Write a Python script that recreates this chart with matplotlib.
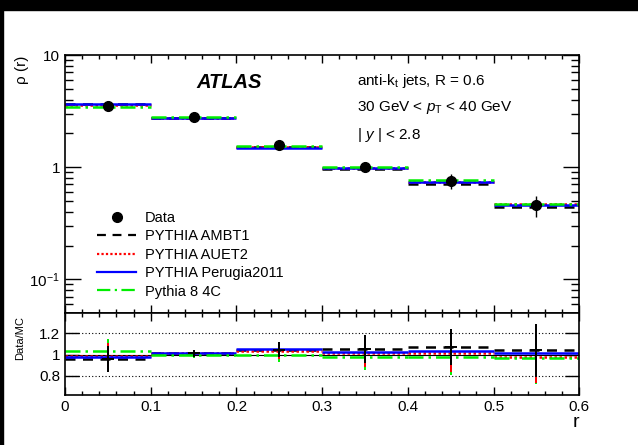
import matplotlib
matplotlib.use("Agg")
from matplotlib import pyplot as plt
from matplotlib.patches import Rectangle
from matplotlib.lines import Line2D
from matplotlib.ticker import LogLocator, FixedLocator, MultipleLocator, NullFormatter

plt.rcParams['font.family'] = ['Liberation Sans', 'DejaVu Sans']
plt.rcParams['mathtext.fontset'] = 'custom'
plt.rcParams['mathtext.rm'] = 'Liberation Sans'
plt.rcParams['mathtext.it'] = 'Liberation Sans:italic'

# bins in r
edges = [0.0, 0.1, 0.2, 0.3, 0.4, 0.5, 0.6]
centers = [0.05, 0.15, 0.25, 0.35, 0.45, 0.55]

# rho(r)
data = [3.52, 2.79, 1.56, 1.0, 0.75, 0.456]
data_err = [0.12, 0.07, 0.08, 0.1, 0.11, 0.1]
ambt1 = [3.67, 2.77, 1.50, 0.97, 0.71, 0.44]
auet2 = [3.58, 2.77, 1.52, 0.99, 0.74, 0.465]
perugia = [3.62, 2.77, 1.49, 0.98, 0.73, 0.455]
py8 = [3.45, 2.78, 1.54, 1.01, 0.765, 0.468]

# Data/MC
r_ambt1 = [0.96, 1.01, 1.045, 1.05, 1.07, 1.04]
r_auet2 = [0.99, 1.01, 1.03, 1.01, 1.01, 0.98]
r_perugia = [0.98, 1.01, 1.05, 1.02, 1.03, 1.01]
r_py8 = [1.03, 1.0, 1.0, 0.98, 0.98, 0.97]
r_err = [0.12, 0.03, 0.07, 0.13, 0.17, 0.25]

models = [
    ("PYTHIA AMBT1", ambt1, r_ambt1, "black", (0, (4, 3))),
    ("PYTHIA AUET2", auet2, r_auet2, "red", (0, (1, 1))),
    ("PYTHIA Perugia2011", perugia, r_perugia, "#0000ff", "-"),
    ("Pythia 8 4C", py8, r_py8, "#00ee00", (0, (6, 2, 1, 2))),
]

fig = plt.figure(figsize=(6.38, 4.45), dpi=100)
# black border of the original screenshot
fig.patches.append(Rectangle((0, 1 - 10 / 445), 1, 10 / 445, transform=fig.transFigure, color="black", zorder=-1))
fig.patches.append(Rectangle((0, 0), 3 / 638, 1, transform=fig.transFigure, color="black", zorder=-1))

ax = fig.add_axes([0.102, 0.2966, 0.806, 0.5798])
ax2 = fig.add_axes([0.102, 0.1124, 0.806, 0.1842], sharex=ax)

lo = edges[:-1]
hi = edges[1:]

# upper panel - horizontal bin lines only
for name, vals, rvals, col, ls in models:
    ax.hlines(vals, lo, hi, colors=col, linestyles=[ls], linewidth=1.8)
ax.errorbar(centers, data, yerr=data_err, fmt="o", color="black", markersize=7,
            elinewidth=1, capsize=0, zorder=5)

ax.set_yscale("log")
ax.set_ylim(0.05, 10)
ax.set_xlim(0, 0.6)
ax.yaxis.set_major_locator(FixedLocator([0.1, 1, 10]))
ax.yaxis.set_major_formatter(plt.FixedFormatter(["10$^{-1}$", "1", "10"]))
ax.yaxis.set_minor_locator(LogLocator(base=10, subs=range(2, 10)))
ax.yaxis.set_minor_formatter(NullFormatter())
ax.xaxis.set_major_locator(MultipleLocator(0.1))
ax.xaxis.set_minor_locator(MultipleLocator(0.02))
ax.tick_params(axis="x", labelbottom=False)
ax.tick_params(which="both", direction="in", top=True, right=True, labelsize=11, width=1)
ax.tick_params(axis="y", which="major", length=11.5)
ax.tick_params(axis="y", which="minor", length=5.8)
ax.tick_params(axis="x", which="major", length=5.5)
ax.tick_params(axis="x", which="minor", length=3)
fig.text(22 / 638, 1 - 70 / 445, "ρ (r)", rotation=90, fontsize=11, ha="center", va="center")

leg_handles = [Line2D([], [], marker="o", linestyle="none", color="black", markersize=7)]
leg_handles += [Line2D([], [], color=m[3], linestyle=m[4], linewidth=1.6) for m in models]
ax.legend(leg_handles, ["Data"] + [m[0] for m in models], loc="upper left",
          bbox_to_anchor=(0.062, 0.395), frameon=False, fontsize=10.5, handlelength=2.7,
          handletextpad=0.6, labelspacing=0.3, borderpad=0, borderaxespad=0)

ax.text(0.318, 0.893, "ATLAS", transform=ax.transAxes, fontsize=14.5, fontweight="bold",
        fontstyle="italic", ha="center", va="center")
ax.text(0.567, 0.9, "anti-k$_{\\mathrm{t}}$ jets, R = 0.6", transform=ax.transAxes, fontsize=11, va="center")
ax.text(0.567, 0.795, "30 GeV < $p_{\\mathrm{T}}$ < 40 GeV", transform=ax.transAxes, fontsize=11, va="center")
ax.text(0.567, 0.69, "| $y$ | < 2.8", transform=ax.transAxes, fontsize=11, va="center")

# lower panel
for y in [0.8, 1.2]:
    ax2.axhline(y, color="black", linestyle=(0, (1, 2)), linewidth=0.8)
ax2.axhline(1.0, color="black", linewidth=0.8)
for name, vals, rvals, col, ls in models:
    ax2.hlines(rvals, lo, hi, colors=col, linestyles=[ls], linewidth=1.8)
for name, vals, rvals, col, ls in models[::-1]:
    ax2.errorbar(centers, rvals, yerr=r_err, fmt="none", ecolor=col, elinewidth=1.4, capsize=0, zorder=4)
ax2.errorbar(centers, r_ambt1, yerr=r_err, fmt="_", color="black", markersize=9, mew=1.4,
             elinewidth=1.2, capsize=0, zorder=6)

ax2.set_ylim(0.62, 1.39)
ax2.yaxis.set_major_locator(FixedLocator([0.8, 1.0, 1.2]))
ax2.yaxis.set_major_formatter(plt.FixedFormatter(["0.8", "1", "1.2"]))
ax2.tick_params(which="both", direction="in", top=True, right=True, labelsize=11, width=1)
ax2.tick_params(axis="y", which="major", length=10)
ax2.tick_params(axis="x", which="major", length=5.5)
ax2.tick_params(axis="x", which="minor", length=3)
ax2.set_xticks([0, 0.1, 0.2, 0.3, 0.4, 0.5, 0.6])
ax2.set_xticklabels(["0", "0.1", "0.2", "0.3", "0.4", "0.5", "0.6"])
ax2.set_xlabel("r", fontsize=14, loc="right", labelpad=0)
fig.text(20 / 638, 1 - 338 / 445, "Data/MC", rotation=90, fontsize=8, ha="center", va="center")

for a in (ax, ax2):
    for s in a.spines.values():
        s.set_linewidth(1.2)

plt.savefig("out.png", dpi=100)
